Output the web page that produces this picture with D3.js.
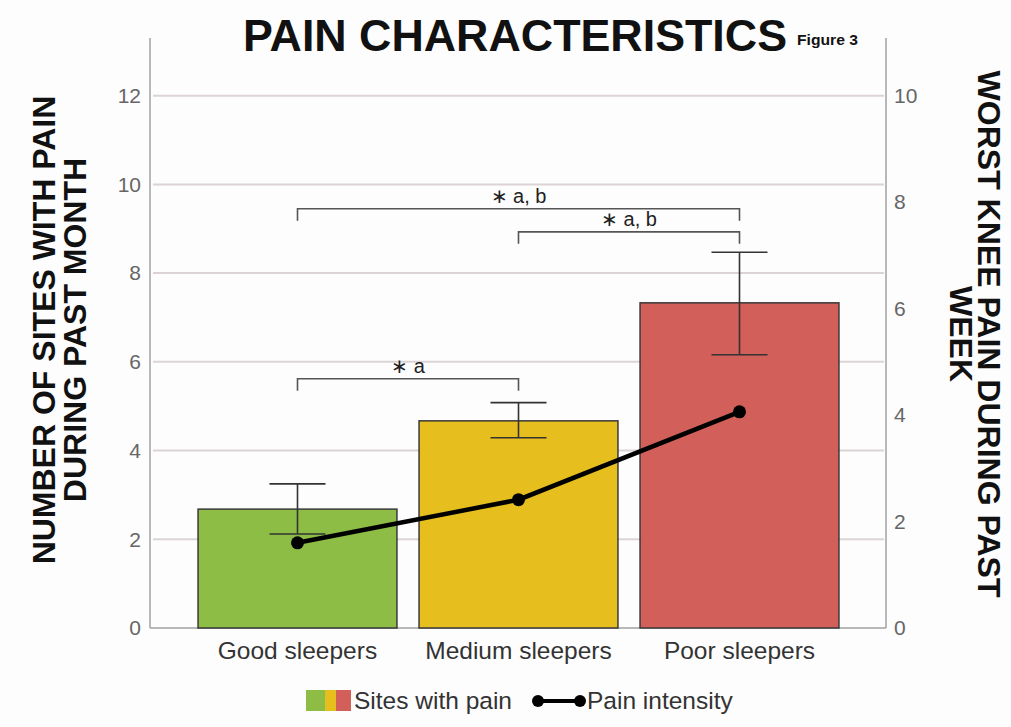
<!DOCTYPE html>
<html>
<head>
<meta charset="utf-8">
<script src="https://cdn.jsdelivr.net/npm/d3@7/dist/d3.min.js"></script>
<style>
  html, body { margin: 0; padding: 0; background: #fdfdfd; }
  svg { display: block; font-family: "Liberation Sans", Arial, sans-serif; }
</style>
</head>
<body>
<svg id="chart" width="1011" height="727"></svg>
<script>
// ---- data ----
const categories = ["Good sleepers", "Medium sleepers", "Poor sleepers"];
const sitesMean = [2.68, 4.67, 7.33];
const sitesLow = [2.12, 4.29, 6.16];
const sitesHigh = [3.25, 5.08, 8.47];
const painIntensity = [1.60, 2.41, 4.06];
const barColors = ["#8dbd44", "#e6be1e", "#d25f5a"];
const leftTicks = [0, 2, 4, 6, 8, 10, 12];
const rightTicks = [0, 2, 4, 6, 8, 10];
const bracketFrom = [0, 1, 0];
const bracketTo = [2, 2, 1];
const bracketLevel = [9.45, 8.93, 5.62];
const bracketLabels = ["\u2217 a, b", "\u2217 a, b", "\u2217 a"];
const titleText = "PAIN CHARACTERISTICS";
const figureText = "Figure 3";
const leftTitle = ["NUMBER OF SITES WITH PAIN", "DURING PAST MONTH"];
const rightTitle = ["WORST KNEE PAIN DURING PAST", "WEEK"];
const legendLabels = ["Sites with pain", "Pain intensity"];

// ---- layout ----
const svg = d3.select("#chart");
const plotL = 150, plotR = 886, plotB = 628, plotT = 38;

const x = d3.scaleBand().domain(categories).range([187, 850]).paddingInner(0.1).paddingOuter(0.05);
const yL = d3.scaleLinear().domain([0, 13.3]).range([plotB, plotT]);
const yR = d3.scaleLinear().domain([0, 13.3 * 10 / 12]).range([plotB, plotT]);

// gridlines
svg.append("g").selectAll("line").data(leftTicks.filter(d => d > 0)).join("line")
  .attr("x1", plotL + 3).attr("x2", plotR - 2)
  .attr("y1", d => yL(d)).attr("y2", d => yL(d))
  .attr("stroke", "#dcd4d4").attr("stroke-width", 2);

// axes lines
const axisColor = "#a0a0a0";
svg.append("line").attr("x1", plotL).attr("x2", plotL).attr("y1", plotT).attr("y2", plotB)
  .attr("stroke", axisColor).attr("stroke-width", 1.5);
svg.append("line").attr("x1", plotR).attr("x2", plotR).attr("y1", plotT).attr("y2", plotB)
  .attr("stroke", axisColor).attr("stroke-width", 1.5);
svg.append("line").attr("x1", plotL).attr("x2", plotR).attr("y1", plotB).attr("y2", plotB)
  .attr("stroke", axisColor).attr("stroke-width", 1.5);

// tick labels via axes
const axL = svg.append("g").attr("transform", `translate(${plotL},0)`)
  .call(d3.axisLeft(yL).tickValues(leftTicks).tickSize(0).tickPadding(9));
axL.select(".domain").remove();
axL.selectAll("text").attr("font-size", 21).attr("fill", "#666").attr("font-family", "Liberation Sans, Arial, sans-serif");

const axR = svg.append("g").attr("transform", `translate(${plotR},0)`)
  .call(d3.axisRight(yR).tickValues(rightTicks).tickSize(0).tickPadding(8));
axR.select(".domain").remove();
axR.selectAll("text").attr("font-size", 21).attr("fill", "#666").attr("font-family", "Liberation Sans, Arial, sans-serif");

// bars
svg.append("g").selectAll("rect").data(categories).join("rect")
  .attr("x", d => x(d)).attr("width", x.bandwidth())
  .attr("y", (d, i) => yL(sitesMean[i]))
  .attr("height", (d, i) => yL(0) - yL(sitesMean[i]))
  .attr("fill", (d, i) => barColors[i])
  .attr("stroke", "#3a3a3a").attr("stroke-width", 1.5);

// error bars
const capW = 28;
const eb = svg.append("g").attr("stroke", "#333").attr("stroke-width", 1.6);
categories.forEach((c, i) => {
  const cx = x(c) + x.bandwidth() / 2;
  eb.append("line").attr("x1", cx).attr("x2", cx).attr("y1", yL(sitesLow[i])).attr("y2", yL(sitesHigh[i]));
  eb.append("line").attr("x1", cx - capW).attr("x2", cx + capW).attr("y1", yL(sitesLow[i])).attr("y2", yL(sitesLow[i]));
  eb.append("line").attr("x1", cx - capW).attr("x2", cx + capW).attr("y1", yL(sitesHigh[i])).attr("y2", yL(sitesHigh[i]));
});

// significance brackets
const br = svg.append("g");
bracketLevel.forEach((lv, i) => {
  const x1 = x(categories[bracketFrom[i]]) + x.bandwidth() / 2;
  const x2 = x(categories[bracketTo[i]]) + x.bandwidth() / 2;
  const yy = yL(lv);
  br.append("path")
    .attr("d", `M${x1},${yy + 12}V${yy}H${x2}V${yy + 12}`)
    .attr("fill", "none").attr("stroke", "#555").attr("stroke-width", 1.6);
  br.append("text").attr("x", (x1 + x2) / 2).attr("y", yy - 6)
    .attr("text-anchor", "middle").attr("font-size", 20).attr("fill", "#222")
    .text(bracketLabels[i]);
});

// pain intensity line
const cxs = categories.map(c => x(c) + x.bandwidth() / 2);
svg.append("path")
  .datum(painIntensity)
  .attr("d", d3.line().x((d, i) => cxs[i]).y(d => yR(d)))
  .attr("fill", "none").attr("stroke", "#000").attr("stroke-width", 4.5);
svg.append("g").selectAll("circle").data(painIntensity).join("circle")
  .attr("cx", (d, i) => cxs[i]).attr("cy", d => yR(d)).attr("r", 6.5).attr("fill", "#000");

// category labels
svg.append("g").selectAll("text").data(categories).join("text")
  .attr("x", d => x(d) + x.bandwidth() / 2).attr("y", 659)
  .attr("text-anchor", "middle").attr("font-size", 24.5).attr("fill", "#333")
  .text(d => d);

// title
svg.append("text").attr("x", 243).attr("y", 51)
  .attr("font-size", 44).attr("font-weight", "bold").attr("fill", "#111")
  .attr("textLength", 544).attr("lengthAdjust", "spacingAndGlyphs")
  .text(titleText);
svg.append("text").attr("x", 797).attr("y", 45)
  .attr("font-size", 15).attr("font-weight", "bold").attr("fill", "#111")
  .attr("textLength", 61).attr("lengthAdjust", "spacingAndGlyphs")
  .text(figureText);

// left axis title
const lt = svg.append("g").attr("transform", "translate(0,330) rotate(-90)");
leftTitle.forEach((t, i) => {
  lt.append("text").attr("x", 0).attr("y", 55 + i * 31)
    .attr("text-anchor", "middle").attr("font-size", 32).attr("font-weight", "bold").attr("fill", "#111")
    .text(t);
});
// right axis title
const rt = svg.append("g").attr("transform", "translate(1011,334) rotate(90)");
rightTitle.forEach((t, i) => {
  rt.append("text").attr("x", 0).attr("y", 33 + i * 28)
    .attr("text-anchor", "middle").attr("font-size", 32).attr("font-weight", "bold").attr("fill", "#111")
    .text(t);
});

// legend
const lg = svg.append("g");
const swW = [19, 11, 15];
let sx = 306;
barColors.forEach((c, i) => {
  lg.append("rect").attr("x", sx).attr("y", 690).attr("width", swW[i]).attr("height", 21).attr("fill", c);
  sx += swW[i];
});
lg.append("text").attr("x", 354).attr("y", 709).attr("font-size", 24.5).attr("fill", "#333").text(legendLabels[0]);
lg.append("line").attr("x1", 538).attr("x2", 580).attr("y1", 701).attr("y2", 701).attr("stroke", "#000").attr("stroke-width", 4);
lg.append("circle").attr("cx", 538).attr("cy", 701).attr("r", 6).attr("fill", "#000");
lg.append("circle").attr("cx", 580).attr("cy", 701).attr("r", 6).attr("fill", "#000");
lg.append("text").attr("x", 587).attr("y", 709).attr("font-size", 24.5).attr("fill", "#333").text(legendLabels[1]);
</script>
</body>
</html>
